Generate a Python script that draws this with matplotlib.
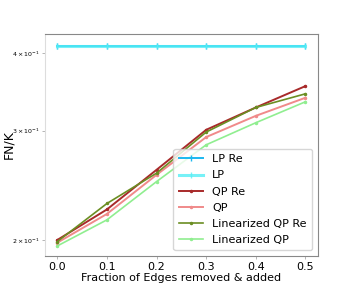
import matplotlib
matplotlib.use("Agg")
import matplotlib.pyplot as plt
from matplotlib.ticker import LogLocator, LogFormatterSciNotation, NullFormatter
import numpy as np

x = [0.0, 0.1, 0.2, 0.3, 0.4, 0.5]
lp_re = [0.411, 0.411, 0.411, 0.411, 0.411, 0.411]
lp = [0.411, 0.411, 0.411, 0.411, 0.411, 0.411]
qp_re = [0.200, 0.224, 0.2595, 0.301, 0.327, 0.354]
qp = [0.198, 0.2203, 0.2547, 0.293, 0.317, 0.339]
lin_qp_re = [0.1988, 0.229, 0.2563, 0.2985, 0.327, 0.344]
lin_qp = [0.1956, 0.2155, 0.2484, 0.2847, 0.309, 0.334]

fig = plt.figure(figsize=(3.54, 2.88), dpi=100)
ax = fig.add_axes([0.127, 0.111, 0.771, 0.771])

ax.plot(x, lp_re, color="#1cb8f0", lw=1.4, marker="|", ms=4, label="LP Re")
ax.plot(x, lp, color="#55eef5", lw=2.2, alpha=0.8, marker="|", ms=4, label="LP")
ax.plot(x, qp_re, color="#a82a2a", lw=1.4, marker=".", ms=3, label="QP Re")
ax.plot(x, qp, color="#f08a8a", lw=1.4, marker=".", ms=3, label="QP")
ax.plot(x, lin_qp_re, color="#6b8e23", lw=1.2, marker=".", ms=3, label="Linearized QP Re")
ax.plot(x, lin_qp, color="#90ee90", lw=1.2, marker=".", ms=3, label="Linearized QP")

ax.set_yscale("log")
ax.set_xlim(-0.025, 0.525)
ax.set_ylim(0.1884, 0.4295)
ax.yaxis.set_major_formatter(NullFormatter())
ax.yaxis.set_minor_locator(LogLocator(subs=[2, 3, 4]))
ax.yaxis.set_minor_formatter(LogFormatterSciNotation(labelOnlyBase=False))
ax.tick_params(axis="y", which="minor", labelsize=4.5, length=2, width=0.5, color="#999999", pad=2)
ax.tick_params(axis="x", labelsize=8, length=2, width=0.5, color="#999999", pad=2)
ax.set_xticks(x)

ax.set_xlabel("Fraction of Edges removed & added", fontsize=8, labelpad=1)
ax.set_ylabel("FN/K", fontsize=9)
ax.yaxis.set_label_coords(-0.11, 0.5)

for s in ["top", "right", "bottom"]:
    ax.spines[s].set_color("#888888")
ax.spines["left"].set_color("#dddddd")

leg = ax.legend(loc="lower right", fontsize=8, frameon=True, handlelength=2.2,
                labelspacing=0.55, borderpad=0.5, handletextpad=0.8)
leg.get_frame().set_edgecolor("#cccccc")

fig.savefig("out.png", dpi=100)
